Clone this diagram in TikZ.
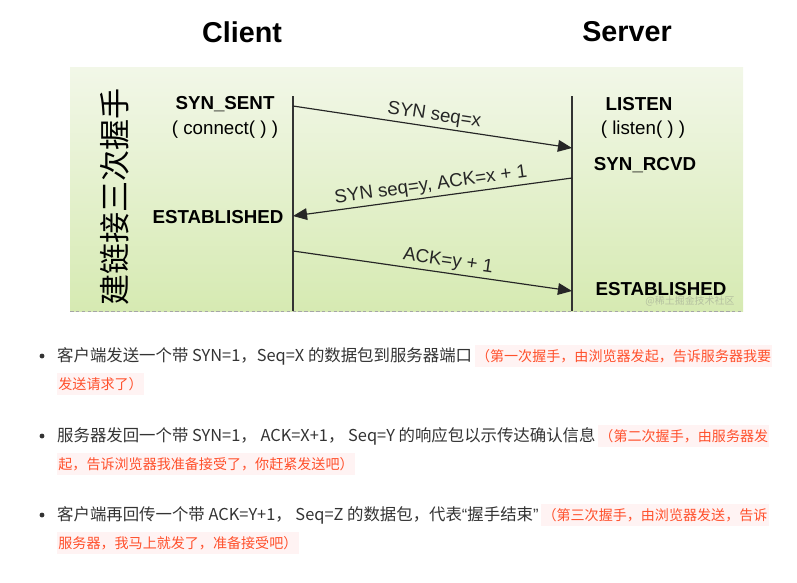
\documentclass[tikz,border=0pt]{standalone}
\usepackage{fontspec}
\setmainfont{Liberation Sans}
\newfontfamily\cjk{Noto Sans CJK SC}
\usetikzlibrary{arrows.meta,positioning}
\definecolor{panelTop}{HTML}{F2F7E8}
\definecolor{panelBot}{HTML}{D6EAB2}
\definecolor{codeRed}{HTML}{FF502C}
\definecolor{codeBg}{HTML}{FFF3F3}
\definecolor{bodyText}{HTML}{333333}
\begin{document}
\begin{tikzpicture}[x=0.03cm,y=-0.03cm,
    title/.style={font=\bfseries\fontsize{24.5}{26}\selectfont},
    state/.style={font=\bfseries\fontsize{16}{18}\selectfont},
    call/.style={font=\fontsize{16}{18}\selectfont},
    msg/.style={line width=1pt,black!85,-{Triangle[length=12pt,width=10pt]}},
    lbl/.style={font=\fontsize{16}{18}\selectfont,sloped,above,inner sep=2pt},
    body/.style={anchor=west,inner sep=0pt,text=bodyText,font=\cjk\fontsize{14}{16}\selectfont},
    note/.style={anchor=west,inner xsep=1pt,inner ysep=4pt,fill=codeBg,text=codeRed,font=\cjk\fontsize{12}{14}\selectfont}]
  \useasboundingbox (0,0) rectangle (797,582);
  % titles
  \node[title] (client) at (242,32) {Client};
  \node[title] (server) at (627,32) {Server};
  % background panel
  \shade[top color=panelTop,bottom color=panelBot] (70,67) rectangle (743,311);
  \draw[gray!70,dash pattern=on 3pt off 2pt] (70,311) -- (743,311);
  \node[font=\cjk\fontsize{26.5}{28}\selectfont,rotate=90] (side) at (115,197) {建链接三次握手};
  % time lines
  \coordinate (ctop) at (293,96);
  \coordinate (cbot) at (293,311);
  \coordinate (stop) at (572,96);
  \coordinate (sbot) at (572,311);
  \draw[line width=1.2pt,black!80] (ctop) -- (cbot);
  \draw[line width=1.2pt,black!80] (stop) -- (sbot);
  \coordinate (c1) at (293,106);
  \coordinate (s1) at (572,148);
  \coordinate (s2) at (572,178);
  \coordinate (c2) at (293,216);
  \coordinate (c3) at (293,251);
  \coordinate (s3) at (572,291);
  % states
  \node[font=\cjk\fontsize{8.5}{10}\selectfont,text=gray,opacity=0.4] (mark) at (690,301) {@稀土掘金技术社区};
  \node[state] (synsent) at (225,104) {SYN\_SENT};
  \node[call] (connect) at (225,130) {( connect( ) )};
  \node[state] (estc) at (218,217) {ESTABLISHED};
  \node[state] (listen) at (639,104) {LISTEN};
  \node[call] (listenf) at (643,130) {( listen( ) )};
  \node[state] (rcvd) at (645,165) {SYN\_RCVD};
  \node[state] (ests) at (661,289) {ESTABLISHED};
  % messages
  \draw[msg] (c1) -- node[lbl] {SYN seq=x} (s1);
  \draw[msg] (s2) -- node[lbl] {SYN seq=y, ACK=x + 1} (c2);
  \draw[msg] (c3) -- node[lbl,pos=0.55] {ACK=y + 1} (s3);
  % notes
  \fill[bodyText] (42,356) circle (2.1pt);
  \node[body] (b1) at (57,356) {客户端发送一个带 SYN=1，Seq=X 的数据包到服务器端口};
  \node[note,right=2pt of b1] (n1) {（第一次握手，由浏览器发起，告诉服务器我要};
  \node[note] (n1b) at (57,384) {发送请求了）};
  \fill[bodyText] (42,436) circle (2.1pt);
  \node[body] (b2) at (57,436) {服务器发回一个带 SYN=1， ACK=X+1， Seq=Y 的响应包以示传达确认信息};
  \node[note,right=2pt of b2] (n2) {（第二次握手，由服务器发};
  \node[note] (n2b) at (57,464) {起，告诉浏览器我准备接受了，你赶紧发送吧）};
  \fill[bodyText] (42,515) circle (2.1pt);
  \node[body] (b3) at (57,515) {客户端再回传一个带 ACK=Y+1， Seq=Z 的数据包，代表{\rmfamily“}握手结束{\rmfamily”}};
  \node[note,right=2pt of b3] (n3) {（第三次握手，由浏览器发送，告诉};
  \node[note] (n3b) at (57,543) {服务器，我马上就发了，准备接受吧）};
\end{tikzpicture}
\end{document}
